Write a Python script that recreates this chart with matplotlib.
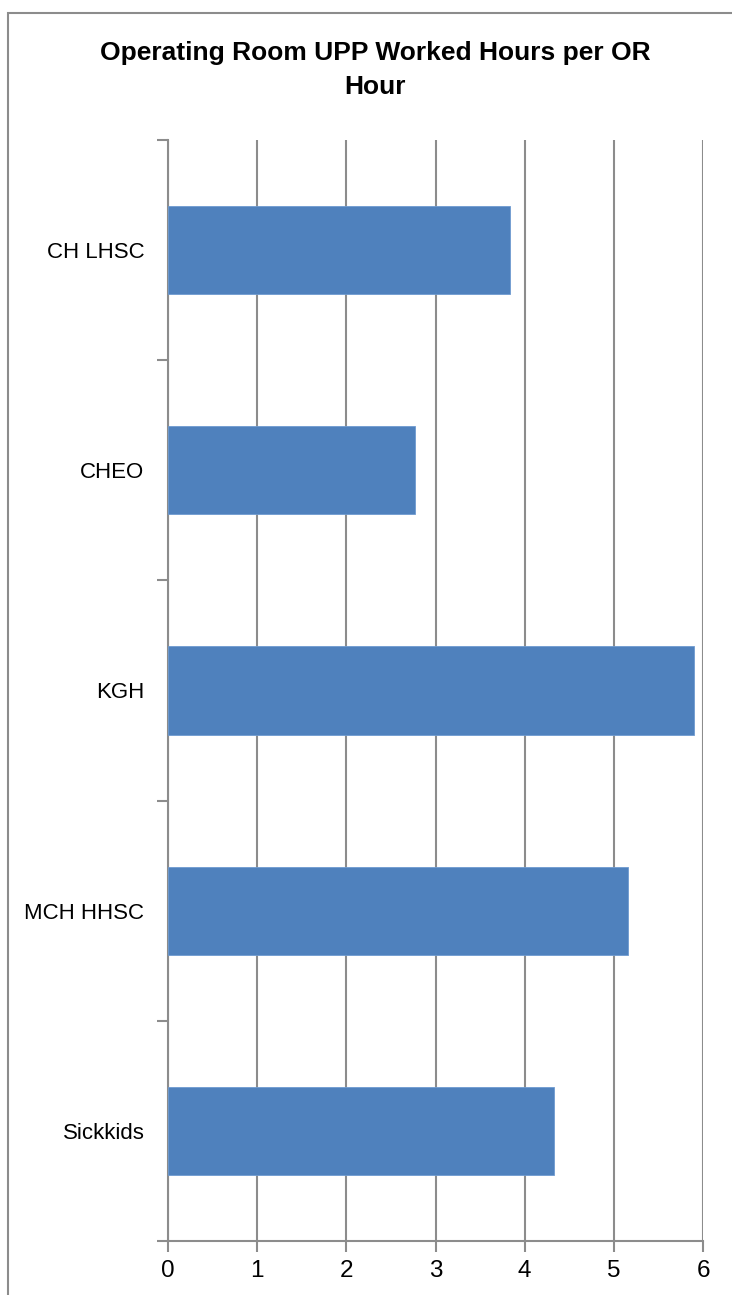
import numpy as np
import matplotlib.pyplot as plt
from matplotlib.patches import Rectangle
from matplotlib.ticker import FixedLocator

plt.rcParams['font.family'] = ['Liberation Sans', 'DejaVu Sans']

hospitales = ["CH LHSC", "CHEO", "KGH", "MCH HHSC", "Sickkids"]
horas = [3.83, 2.77, 5.90, 5.16, 4.33]
ticks_x = [0, 1, 2, 3, 4, 5, 6]

W, H = 732, 1295
fig = plt.figure(figsize=(W / 100, H / 100), dpi=100)

# marco gris del grafico (se sale por derecha y abajo)
fig.patches.append(Rectangle((8 / W, -0.1), 1.2, 1 - 13 / H + 0.1, transform=fig.transFigure,
                             fill=False, edgecolor='#8c8c8c', linewidth=1.5))

ax = fig.add_axes([168 / W, 1 - 1241 / H, (703 - 168) / W, (1241 - 140) / H])

y = np.arange(len(hospitales))
ax.barh(y, horas, height=0.4, color='#4f81bd', edgecolor='#6f9bd0', linewidth=0.6, zorder=3)

ax.set_xlim(0, 6)
ax.set_ylim(len(hospitales) - 0.5, -0.5)
ax.set_xticks(ticks_x)
ax.set_xticklabels([str(t) for t in ticks_x], fontsize=17.5)
ax.set_yticks(y)
ax.set_yticklabels(hospitales, fontsize=16)
ax.yaxis.set_minor_locator(FixedLocator(np.arange(-0.5, len(hospitales), 1)))
ax.tick_params(axis='y', which='major', length=0, pad=17)
ax.tick_params(axis='y', which='minor', length=8, width=1.5, color='#8c8c8c')
ax.tick_params(axis='x', length=8, width=1.5, color='#8c8c8c', pad=6)

ax.grid(axis='x', color='#8c8c8c', linewidth=1.5, zorder=0)
for s in ['top', 'right']:
    ax.spines[s].set_visible(False)
for s in ['left', 'bottom']:
    ax.spines[s].set_color('#8c8c8c')
    ax.spines[s].set_linewidth(1.5)

fig.text(375 / W, 1 - 41 / H, "Operating Room UPP Worked Hours per OR\nHour", ha='center', va='top',
         fontsize=19, fontweight='bold', linespacing=1.5)

fig.savefig("out.png", dpi=100)
